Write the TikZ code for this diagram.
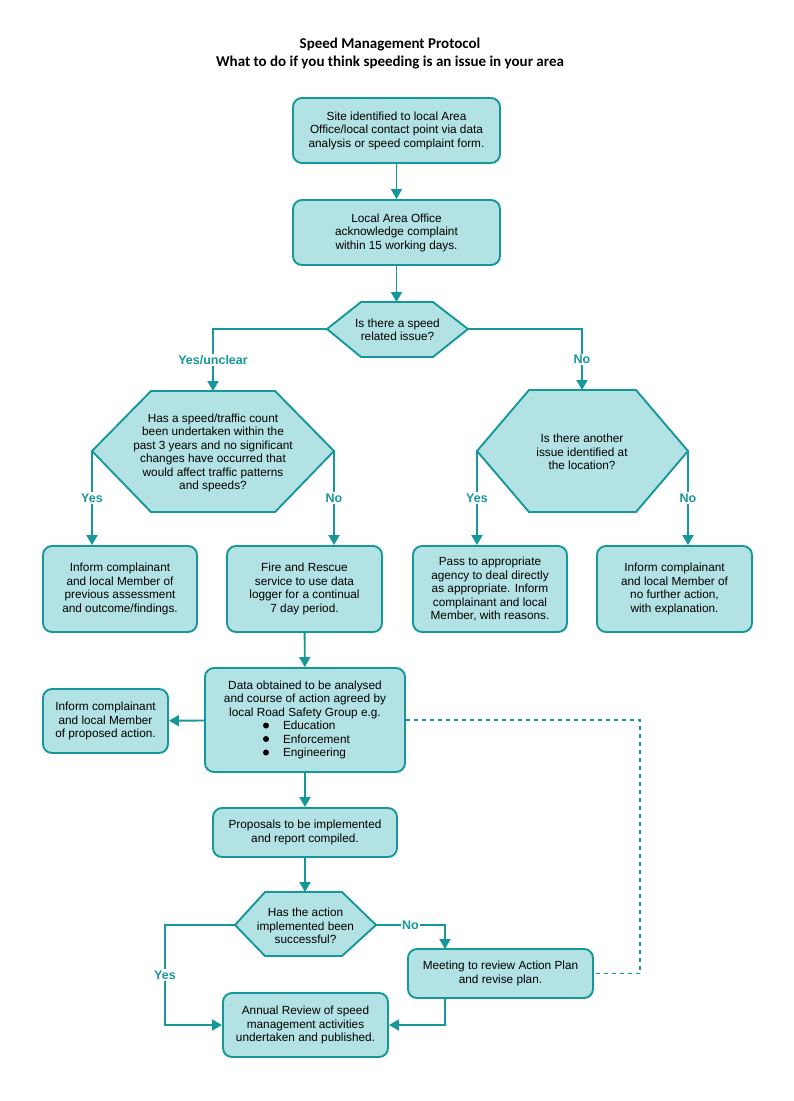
\documentclass[tikz,border=0pt]{standalone}
\usepackage{fontspec}
\setmainfont{Liberation Sans}
\newfontfamily\titlefont{Carlito}
\usetikzlibrary{arrows.meta}
\definecolor{tealline}{RGB}{22,152,154}
\definecolor{tealfill}{RGB}{178,226,227}

\tikzset{
  box/.style={draw=tealline, fill=tealfill, line width=1.9pt, rounded corners=9pt,
    align=center, inner sep=0pt, font=\fontsize{11.8}{13.5}\selectfont},
  hexa/.style={draw=tealline, fill=tealfill, line width=1.9pt, line join=miter},
  txt/.style={align=center, inner sep=0pt, font=\fontsize{11.8}{13.5}\selectfont},
  flow/.style={draw=tealline, line width=1.9pt, -{Triangle[length=10pt,width=11pt]}},
  loopline/.style={draw=tealline, line width=1.9pt, dash pattern=on 4pt off 4pt},
  answer/.style={text=tealline, fill=white, inner sep=1.5pt,
    font=\bfseries\fontsize{12.5}{14}\selectfont},
  listdot/.style={fill=black},
}

\begin{document}
\begin{tikzpicture}[x=1pt, y=-1pt]
\useasboundingbox[fill=white] (0,0) rectangle (794,1101);

% title
\node[align=center, font=\titlefont\bfseries\fontsize{15}{18}\selectfont] (title) at (390,54)
  {Speed Management Protocol\\What to do if you think speeding is an issue in your area};

% top boxes
\node[box, minimum width=207pt, minimum height=65pt] (site) at (396.5,130.5)
  {Site identified to local Area\\Office/local contact point via data\\analysis or speed complaint form.};
\node[box, minimum width=207pt, minimum height=65pt] (ack) at (396.5,232.5)
  {Local Area Office\\acknowledge complaint\\within 15 working days.};

% first question
\draw[hexa] (327,329) coordinate (speedqW) -- (361,302) -- (433,302) -- (468,329) coordinate (speedqE)
  -- (433,357) -- (361,357) -- cycle;
\coordinate (speedqN) at (396.5,302);
\node[txt] (speedq) at (397.5,330) {Is there a speed\\related issue?};

% left question
\draw[hexa] (92,451) coordinate (countqW) -- (151,391) -- (275,391) -- (334,451) coordinate (countqE)
  -- (275,512) -- (151,512) -- cycle;
\coordinate (countqN) at (213,391);
\node[txt] (countq) at (213,453) {Has a speed/traffic count\\been undertaken within the\\past 3 years and no significant\\changes have occurred that\\would affect traffic patterns\\and speeds?};

% right question
\draw[hexa] (477,451) coordinate (otherqW) -- (529,390) -- (636,390) -- (688,451) coordinate (otherqE)
  -- (636,512) -- (529,512) -- cycle;
\coordinate (otherqN) at (582,390);
\node[txt] (otherq) at (582,452) {Is there another\\issue identified at\\the location?};

% answer boxes
\node[box, minimum width=154pt, minimum height=86pt] (informprev) at (120,589)
  {Inform complainant\\and local Member of\\previous assessment\\and outcome/findings.};
\node[box, minimum width=155pt, minimum height=86pt] (firerescue) at (304.5,589)
  {Fire and Rescue\\service to use data\\logger for a continual\\7 day period.};
\node[box, minimum width=154pt, minimum height=86pt] (passon) at (490,589)
  {Pass to appropriate\\agency to deal directly\\as appropriate. Inform\\complainant and local\\Member, with reasons.};
\node[box, minimum width=155pt, minimum height=86pt] (nofurther) at (674.5,589)
  {Inform complainant\\and local Member of\\no further action,\\with explanation.};

% data and action
\node[box, minimum width=200pt, minimum height=104pt] (dataagreed) at (305,720)
  {Data obtained to be analysed\\and course of action agreed by\\local Road Safety Group e.g.\\
   \makebox[90pt][l]{\hspace{23pt}Education}\\
   \makebox[90pt][l]{\hspace{23pt}Enforcement}\\
   \makebox[90pt][l]{\hspace{23pt}Engineering}};
\fill[listdot] (266,725.5) circle (3pt); % Education
\fill[listdot] (266,739) circle (3pt); % Enforcement
\fill[listdot] (266,752.5) circle (3pt); % Engineering
\node[box, minimum width=125pt, minimum height=64pt] (informaction) at (105.5,721)
  {Inform complainant\\and local Member\\of proposed action.};
\node[box, minimum width=184pt, minimum height=49pt] (proposals) at (305,832.5)
  {Proposals to be implemented\\and report compiled.};

% last question
\draw[hexa] (235,925) coordinate (successqW) -- (265,892) -- (342,892) -- (376,925) coordinate (successqE)
  -- (342,956) -- (265,956) -- cycle;
\coordinate (successqN) at (305,892);
\node[txt] (successq) at (305.5,926) {Has the action\\implemented been\\successful?};

\node[box, minimum width=185pt, minimum height=49pt] (reviewmeet) at (500.5,973.5)
  {Meeting to review Action Plan\\and revise plan.};
\node[box, minimum width=165pt, minimum height=64pt] (annual) at (305.5,1025)
  {Annual Review of speed\\management activities\\undertaken and published.};

\coordinate (yescorner) at (165,1025);
\coordinate (nodrop) at (445,949);
\coordinate (loopSE) at (640,973.5);

% connectors
\draw[flow] (site) -- (ack);
\draw[flow] (ack) -- (speedqN);
\draw[flow] (speedqW) -| node[answer, pos=0.75]{Yes/unclear} (countqN);
\draw[flow] (speedqE) -| node[answer, pos=0.75]{No} (otherqN);
\draw[flow] (countqW) -- node[answer]{Yes} (countqW |- informprev.north);
\draw[flow] (countqE) -- node[answer]{No} (countqE |- firerescue.north);
\draw[flow] (otherqW) -- node[answer]{Yes} (otherqW |- passon.north);
\draw[flow] (otherqE) -- node[answer]{No} (otherqE |- nofurther.north);
\draw[flow] (firerescue) -- (dataagreed);
\draw[flow] (dataagreed) -- (informaction);
\draw[flow] (dataagreed) -- (proposals);
\draw[flow] (proposals) -- (successqN);
\draw[flow] (successqW) -| node[answer, pos=0.75]{Yes} (yescorner) -- (annual.west);
\draw[flow] (successqE) -| node[answer, pos=0.25]{No} (nodrop);
\draw[flow] (reviewmeet.south -| nodrop) |- (annual.east);
\draw[loopline] (dataagreed.east) -| (loopSE) -- (reviewmeet.east);
\end{tikzpicture}
\end{document}
